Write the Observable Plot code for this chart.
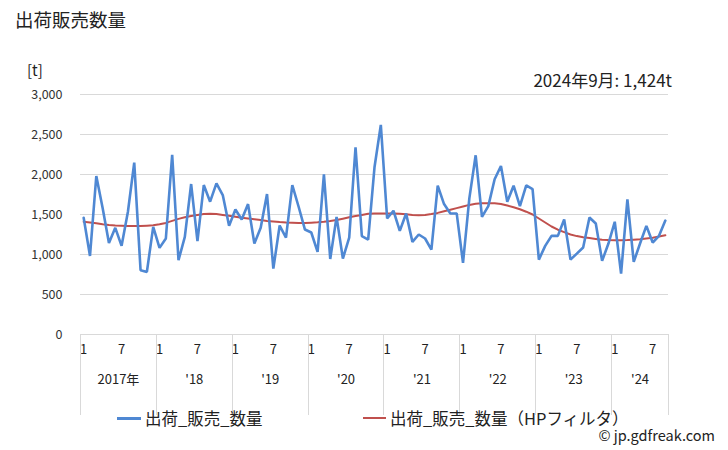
<!DOCTYPE html>
<html><head><meta charset="utf-8">
<script src="https://cdn.jsdelivr.net/npm/d3@7"></script>
<script src="https://cdn.jsdelivr.net/npm/@observablehq/plot@0.6"></script>
<style>
body{margin:0;background:#fff;font-family:"Noto Sans CJK JP","Noto Sans",sans-serif;}
#wrap{position:relative;width:728px;height:450px;overflow:hidden;}
.abs{position:absolute;white-space:nowrap;color:#222;line-height:1;}
.leg{position:absolute;height:3px;}
</style></head><body><div id="wrap"></div>
<script>
// Monthly values, Jan 2017 – Sep 2024 [t]
const actual2017 = [1459, 982, 1981, 1580, 1145, 1333, 1108, 1534, 2148, 803, 782, 1346];
const actual2018 = [1083, 1200, 2245, 928, 1221, 1881, 1166, 1868, 1660, 1889, 1743, 1358];
const actual2019 = [1563, 1438, 1630, 1137, 1333, 1756, 823, 1362, 1212, 1868, 1597, 1312];
const actual2020 = [1275, 1032, 2002, 944, 1471, 949, 1212, 2341, 1229, 1187, 2090, 2621];
const actual2021 = [1450, 1547, 1296, 1513, 1158, 1250, 1200, 1062, 1860, 1630, 1513, 1513];
const actual2022 = [895, 1701, 2240, 1471, 1605, 1940, 2107, 1660, 1860, 1605, 1864, 1818];
const actual2023 = [936, 1108, 1233, 1233, 1438, 936, 1011, 1087, 1463, 1388, 920, 1137];
const actual2024 = [1409, 761, 1689, 907, 1137, 1358, 1150, 1233, 1424];

const trend2017 = [1409, 1400, 1390, 1378, 1368, 1363, 1360, 1357, 1355, 1356, 1360, 1365];
const trend2018 = [1378, 1395, 1420, 1445, 1465, 1480, 1495, 1505, 1510, 1505, 1495, 1485];
const trend2019 = [1472, 1460, 1450, 1440, 1430, 1420, 1412, 1405, 1400, 1397, 1395, 1395];
const trend2020 = [1398, 1402, 1408, 1418, 1430, 1448, 1465, 1480, 1495, 1508, 1512, 1513];
const trend2021 = [1513, 1512, 1508, 1502, 1495, 1492, 1495, 1505, 1520, 1540, 1560, 1580];
const trend2022 = [1600, 1620, 1635, 1642, 1642, 1640, 1630, 1612, 1590, 1565, 1535, 1500];
const trend2023 = [1450, 1400, 1350, 1310, 1280, 1250, 1230, 1215, 1205, 1195, 1185, 1180];
const trend2024 = [1178, 1178, 1180, 1185, 1190, 1200, 1210, 1225, 1240];

const yearLabels = ["2017年", "'18", "'19", "'20", "'21", "'22", "'23", "'24"];
const monthTickLabels = ["1", "7"];
const yTicks = [0, 500, 1000, 1500, 2000, 2500, 3000];
const seriesNames = ["出荷_販売_数量", "出荷_販売_数量（HPフィルタ）"];
const titleText = "出荷販売数量";
const unitText = "[t]";
const noteText = "2024年9月: 1,424t";
const creditText = "© jp.gdfreak.com";

const actualByYear = [actual2017, actual2018, actual2019, actual2020, actual2021, actual2022, actual2023, actual2024];
const trendByYear = [trend2017, trend2018, trend2019, trend2020, trend2021, trend2022, trend2023, trend2024];

const data = [];
const yearSpans = [];
const monthTicks = [];
actualByYear.forEach((arr, y) => {
  const start = data.length;
  arr.forEach((v, m) => {
    const i = data.length;
    data.push({i, v, t: trendByYear[y][m]});
    if (m === 0) monthTicks.push({i, label: monthTickLabels[0]});
    if (m === 6) monthTicks.push({i, label: monthTickLabels[1]});
  });
  yearSpans.push({start, end: data.length, label: yearLabels[y]});
});
const n = data.length;

const FONT = '"Noto Sans CJK JP","Noto Sans",sans-serif';
const blue = "#4f88d3", red = "#c0504d", grid = "#d9d9d9";

const chart = Plot.plot({
  width: 728, height: 450,
  marginLeft: 80, marginRight: 60, marginTop: 94, marginBottom: 116,
  x: {domain: [0, n], axis: null},
  y: {domain: [0, 3000], ticks: yTicks, tickFormat: d3.format(","), tickSize: 0, tickPadding: 18, label: null},
  style: {fontFamily: FONT, fontSize: "12.5px", color: "#333", background: "transparent", overflow: "visible"},
  marks: [
    Plot.gridY(yTicks, {stroke: grid, strokeOpacity: 1}),
    Plot.lineY(data, {x: d => d.i + 0.5, y: "t", stroke: red, strokeWidth: 2}),
    Plot.lineY(data, {x: d => d.i + 0.5, y: "v", stroke: blue, strokeWidth: 2.6, strokeLinejoin: "miter"}),
    Plot.text(monthTicks, {x: d => d.i + 0.5, text: "label", frameAnchor: "bottom", dy: 19, fill: "#222", fontSize: 13}),
    Plot.text(yearSpans, {x: d => (d.start + d.end) / 2, text: "label", frameAnchor: "bottom", dy: 49, fill: "#222", fontSize: 13})
  ]
});

// year separators below the axis
const sx = chart.scale("x");
const bounds = yearSpans.map(d => d.start).concat([n]);
const g = d3.select(chart).append("g");
bounds.forEach(b => {
  const px = Math.round(sx.apply(b)) + 0.5;
  g.append("line").attr("x1", px).attr("x2", px).attr("y1", 334).attr("y2", 415)
    .attr("stroke", grid);
});

const wrap = document.getElementById("wrap");
wrap.appendChild(chart);
chart.style.position = "absolute"; chart.style.left = "0"; chart.style.top = "0";

function addText(txt, css) {
  const d = document.createElement("div");
  d.className = "abs"; d.textContent = txt;
  Object.assign(d.style, css);
  wrap.appendChild(d);
  return d;
}
function addLine(color, css) {
  const d = document.createElement("div");
  d.className = "leg"; d.style.background = color;
  Object.assign(d.style, css);
  wrap.appendChild(d);
}
addText(titleText, {left: "15px", top: "10px", fontSize: "18.5px"});
addText(unitText, {left: "27px", top: "62px", fontSize: "15px"});
addText(noteText, {right: "56px", top: "71px", fontSize: "17px"});
addLine(blue, {left: "117px", top: "417px", width: "24px"});
addText(seriesNames[0], {left: "145px", top: "410px", fontSize: "16.5px"});
addLine(red, {left: "363px", top: "417px", width: "23px", height: "2px"});
addText(seriesNames[1], {left: "390px", top: "410px", fontSize: "16.5px"});
addText(creditText, {right: "13px", top: "428px", fontSize: "14.5px"});
</script></body></html>
